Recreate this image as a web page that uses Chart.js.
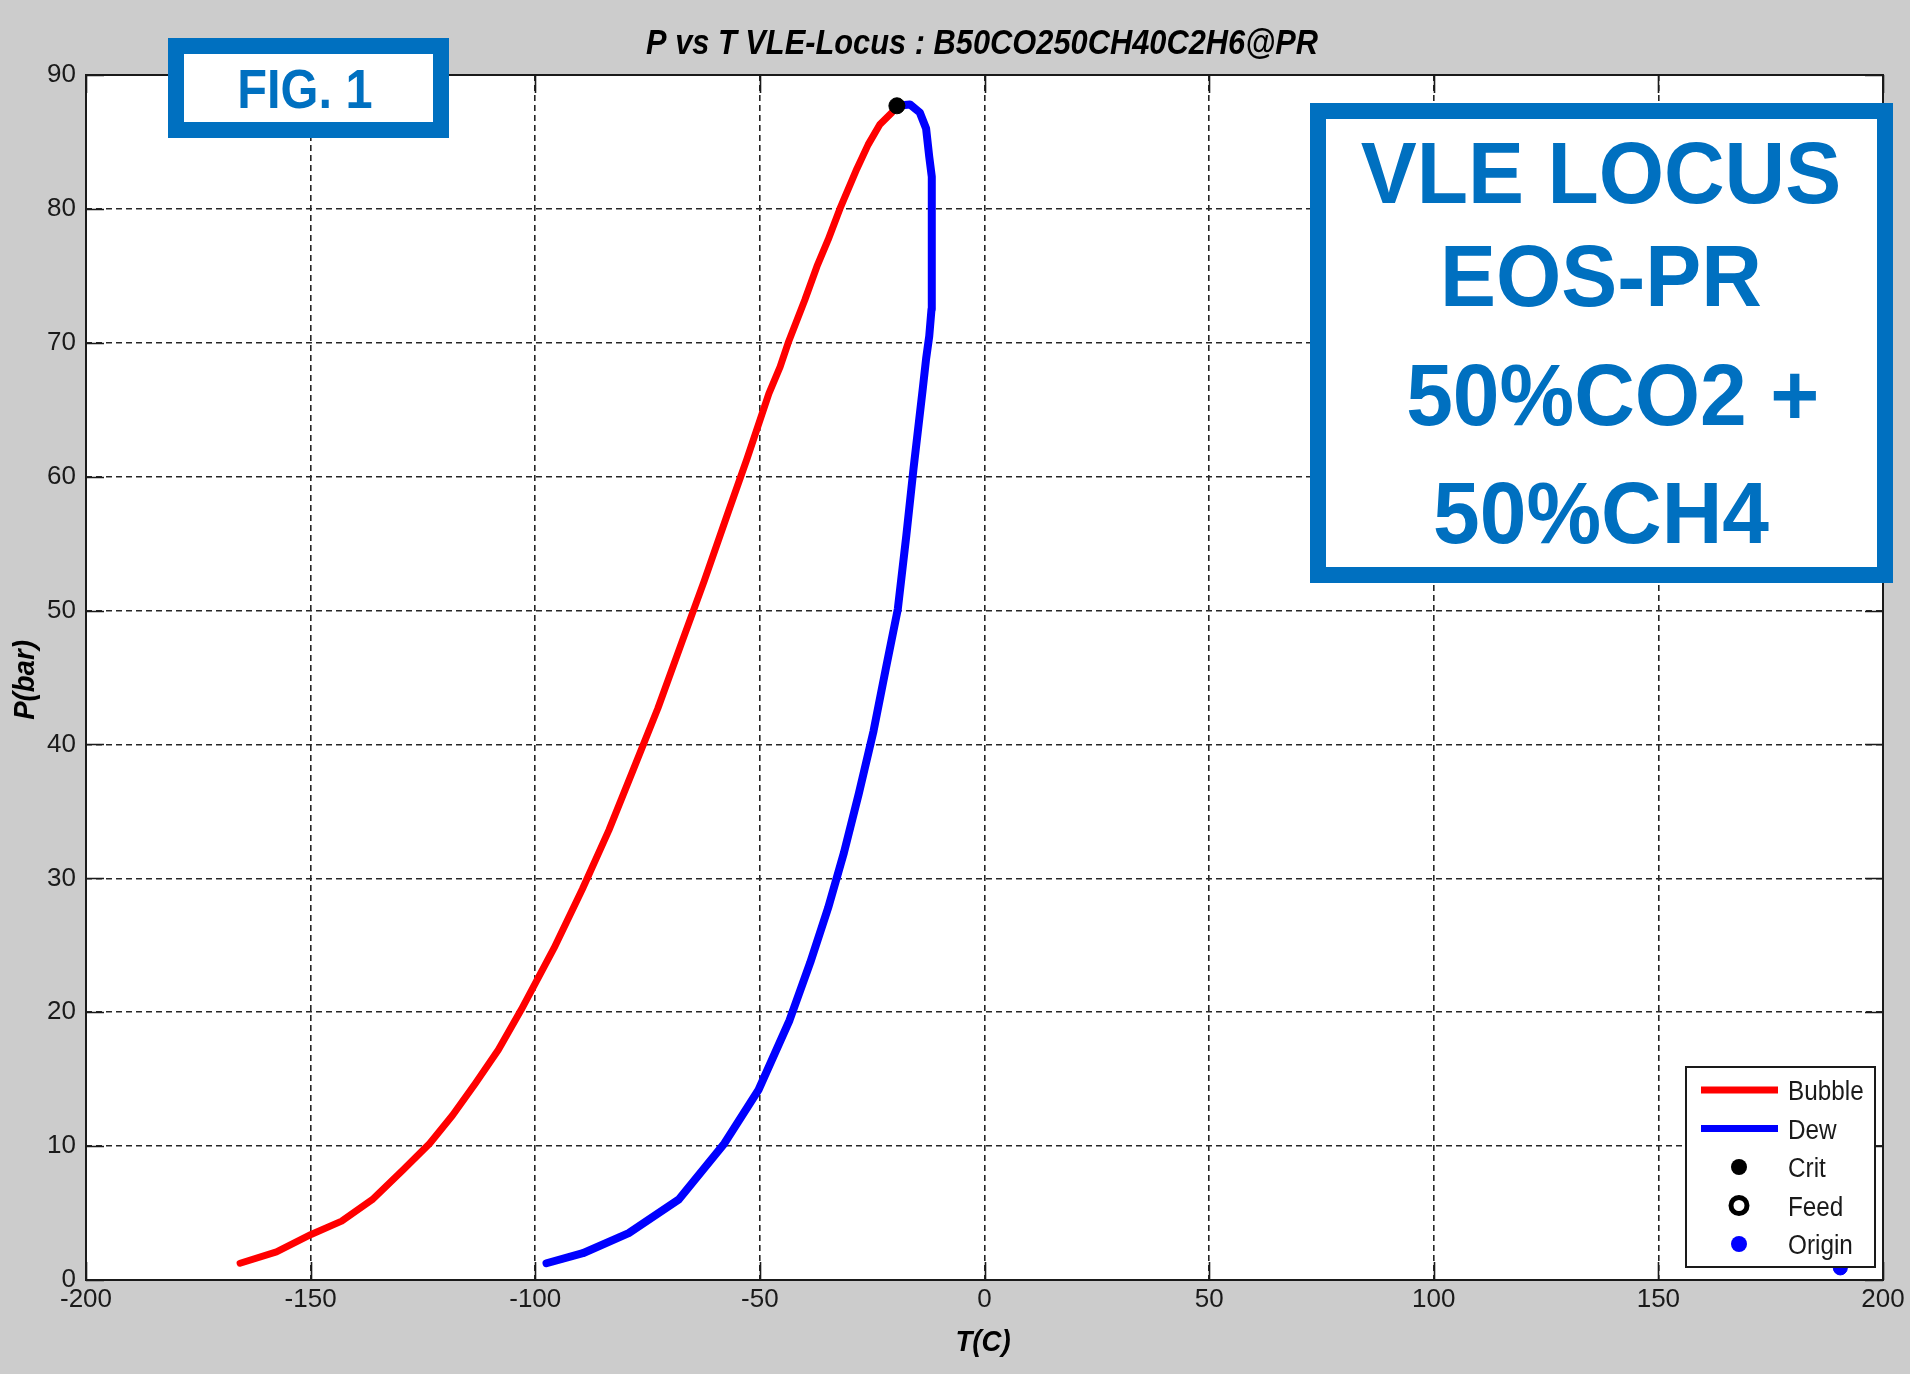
<!DOCTYPE html>
<html>
<head>
<meta charset="utf-8">
<script src="https://cdn.jsdelivr.net/npm/chart.js@4.4.1/dist/chart.umd.min.js"></script>
<style>
  html, body { margin: 0; padding: 0; background: #cccccc; }
  #wrap { width: 1910px; height: 1374px; }
</style>
</head>
<body>
<div id="wrap"><canvas id="myChart" width="1910" height="1374"></canvas></div>
<script>
// values
const bubbleT = [-165.7, -157.6, -149.9, -143.1, -136.3, -129.5, -123.5, -118.4, -113.3, -108.2, -103.1, -95.8, -89.5, -83.6, -78.2, -72.7, -67.3, -62.4, -57.0, -52.9, -48.0, -45.5, -43.7, -40.0, -37.3, -34.8, -32.2, -28.4, -25.9, -23.3, -20.6, -19.5];
const bubbleP = [1.25, 2.1, 3.4, 4.4, 6.0, 8.2, 10.2, 12.3, 14.7, 17.2, 20.2, 24.8, 29.2, 33.6, 38.1, 42.7, 47.7, 52.2, 57.4, 61.3, 66.2, 68.2, 70.0, 73.2, 75.7, 77.7, 80.0, 83.0, 84.8, 86.3, 87.2, 87.7];
const dewT = [-97.5, -89.4, -79.2, -68.1, -57.9, -50.3, -43.4, -38.8, -34.8, -31.3, -28.0, -24.7, -22.0, -19.3, -17.4, -15.8, -13.8, -13.0, -12.3, -11.8, -11.7, -11.7, -11.8, -12.3, -13.0, -14.4, -16.6, -19.5];
const dewP = [1.25, 2.0, 3.5, 6.0, 10.2, 14.2, 19.4, 23.7, 27.8, 31.9, 36.3, 41.0, 45.6, 50.1, 55.6, 60.6, 66.4, 68.8, 70.5, 72.5, 76.2, 80.0, 82.4, 83.9, 86.0, 87.2, 87.8, 87.7];
const critTP = [-19.5, 87.7];
const originTP = [190.5, 0.9];
const xTicks = [-200, -150, -100, -50, 0, 50, 100, 150, 200];
const yTicks = [0, 10, 20, 30, 40, 50, 60, 70, 80, 90];
const legendNames = ['Bubble', 'Dew', 'Crit', 'Feed', 'Origin'];
const titleText = 'P vs T VLE-Locus : B50CO250CH40C2H6@PR';
const xTitle = 'T(C)';
const yTitle = 'P(bar)';
const figText = 'FIG. 1';
const noteLines = ['VLE LOCUS', 'EOS-PR', ' 50%CO2 +', '50%CH4'];

const FONT = '"Liberation Sans", Arial, sans-serif';
const BOXBLUE = '#0070c0';

function pts(xs, ys) {
  return xs.map((x, i) => ({ x: x, y: ys[i] }));
}

function text(ctx, s, x, y, font, color, sx, align) {
  ctx.save();
  ctx.font = font;
  ctx.fillStyle = color;
  ctx.textAlign = align || 'center';
  ctx.textBaseline = 'alphabetic';
  ctx.translate(x, y);
  ctx.scale(sx, 1);
  ctx.fillText(s, 0, 0);
  ctx.restore();
}

function blueBox(ctx, x0, y0, x1, y1, bw) {
  ctx.save();
  ctx.fillStyle = BOXBLUE;
  ctx.fillRect(x0, y0, x1 - x0, y1 - y0);
  ctx.fillStyle = '#ffffff';
  ctx.fillRect(x0 + bw, y0 + bw, x1 - x0 - 2 * bw, y1 - y0 - 2 * bw);
  ctx.restore();
}

const matlabFrame = {
  id: 'matlabFrame',
  beforeDraw(chart) {
    const { ctx, chartArea: a } = chart;
    ctx.save();
    ctx.fillStyle = '#cccccc';
    ctx.fillRect(0, 0, chart.width, chart.height);
    ctx.fillStyle = '#ffffff';
    ctx.fillRect(a.left, a.top, a.right - a.left, a.bottom - a.top);
    ctx.restore();
  },
  afterDatasetsDraw(chart) {
    const { ctx, chartArea: a } = chart;
    const xs = chart.scales.x, ys = chart.scales.y;
    const tl = 18;

    // inward ticks on all four sides
    ctx.save();
    ctx.strokeStyle = '#1a1a1a';
    ctx.lineWidth = 1.6;
    ctx.beginPath();
    xTicks.forEach(v => {
      const px = Math.round(xs.getPixelForValue(v)) + 0.5;
      ctx.moveTo(px, a.bottom); ctx.lineTo(px, a.bottom - tl);
      ctx.moveTo(px, a.top); ctx.lineTo(px, a.top + tl);
    });
    yTicks.forEach(v => {
      const py = Math.round(ys.getPixelForValue(v)) + 0.5;
      ctx.moveTo(a.left, py); ctx.lineTo(a.left + tl, py);
      ctx.moveTo(a.right, py); ctx.lineTo(a.right - tl, py);
    });
    ctx.stroke();
    // box
    ctx.lineWidth = 2;
    ctx.strokeRect(a.left, a.top, a.right - a.left, a.bottom - a.top);
    ctx.restore();

    // legend
    const lx0 = 1686, ly0 = 1067, lx1 = 1875, ly1 = 1267;
    ctx.save();
    ctx.fillStyle = '#ffffff';
    ctx.fillRect(lx0, ly0, lx1 - lx0, ly1 - ly0);
    ctx.strokeStyle = '#1a1a1a';
    ctx.lineWidth = 2;
    ctx.strokeRect(lx0, ly0, lx1 - lx0, ly1 - ly0);
    const ds = chart.data.datasets;
    legendNames.forEach((name, i) => {
      const cy = 1090 + i * 38.5;
      const d = ds[i];
      if (d.showLine) {
        ctx.strokeStyle = d.borderColor;
        ctx.lineWidth = 7;
        ctx.beginPath();
        ctx.moveTo(1701, cy); ctx.lineTo(1778, cy);
        ctx.stroke();
      } else if (d.pointBackgroundColor === 'transparent') {
        ctx.strokeStyle = d.pointBorderColor;
        ctx.lineWidth = 5;
        ctx.beginPath();
        ctx.arc(1739, cy, 8, 0, Math.PI * 2);
        ctx.stroke();
      } else {
        ctx.fillStyle = d.pointBackgroundColor;
        ctx.beginPath();
        ctx.arc(1739, cy, 8, 0, Math.PI * 2);
        ctx.fill();
      }
      text(ctx, name, 1788, cy + 10, '27px ' + FONT, '#1a1a1a', 0.9, 'left');
    });
    ctx.restore();

    // titles
    text(ctx, titleText, 982, 54, 'italic bold 35px ' + FONT, '#000000', 0.88);
    text(ctx, xTitle, 983, 1351, 'italic bold 30px ' + FONT, '#000000', 0.92);
    ctx.save();
    ctx.translate(34, 680);
    ctx.rotate(-Math.PI / 2);
    text(ctx, yTitle, 0, 0, 'italic bold 30px ' + FONT, '#000000', 0.92);
    ctx.restore();

    // annotation boxes
    blueBox(ctx, 168, 38, 449, 138, 16);
    text(ctx, figText, 305, 108, 'bold 56px ' + FONT, BOXBLUE, 0.87);
    blueBox(ctx, 1310, 103, 1893, 583, 16);
    const bases = [203, 306, 425, 543];
    noteLines.forEach((s, i) => {
      text(ctx, s, 1601, bases[i], 'bold 87px ' + FONT, BOXBLUE, 0.965);
    });
  }
};

new Chart(document.getElementById('myChart'), {
  type: 'scatter',
  data: {
    datasets: [
      {
        label: legendNames[0],
        data: pts(bubbleT, bubbleP),
        showLine: true,
        borderColor: '#ff0000',
        backgroundColor: '#ff0000',
        borderWidth: 7,
        pointRadius: 0,
        borderJoinStyle: 'round',
        borderCapStyle: 'round',
        order: 3
      },
      {
        label: legendNames[1],
        data: pts(dewT, dewP),
        showLine: true,
        borderColor: '#0000ff',
        backgroundColor: '#0000ff',
        borderWidth: 8,
        pointRadius: 0,
        borderJoinStyle: 'round',
        borderCapStyle: 'round',
        order: 2
      },
      {
        label: legendNames[2],
        data: [{ x: critTP[0], y: critTP[1] }],
        pointRadius: 8,
        pointBackgroundColor: '#000000',
        pointBorderColor: '#000000',
        pointBorderWidth: 1,
        order: 0
      },
      {
        label: legendNames[3],
        data: [],
        pointRadius: 8,
        pointBackgroundColor: 'transparent',
        pointBorderColor: '#000000',
        pointBorderWidth: 5,
        order: 1
      },
      {
        label: legendNames[4],
        data: [{ x: originTP[0], y: originTP[1] }],
        pointRadius: 7,
        pointBackgroundColor: '#0000ff',
        pointBorderColor: '#0000ff',
        pointBorderWidth: 1,
        order: 1
      }
    ]
  },
  options: {
    responsive: false,
    animation: false,
    events: [],
    layout: { padding: { left: 0, top: 75, right: 27, bottom: 0 } },
    plugins: {
      legend: { display: false },
      title: { display: false },
      tooltip: { enabled: false }
    },
    scales: {
      x: {
        type: 'linear',
        min: xTicks[0],
        max: xTicks[xTicks.length - 1],
        afterFit: s => { s.height = 94; },
        ticks: {
          stepSize: xTicks[1] - xTicks[0],
          font: { family: FONT, size: 26 },
          color: '#1a1a1a',
          padding: 4,
          maxRotation: 0
        },
        grid: { color: '#262626', lineWidth: 1.6, drawTicks: false },
        border: { display: false, dash: [6, 4] }
      },
      y: {
        type: 'linear',
        min: yTicks[0],
        max: yTicks[yTicks.length - 1],
        afterFit: s => { s.width = 86; },
        ticks: {
          stepSize: yTicks[1] - yTicks[0],
          font: { family: FONT, size: 26 },
          color: '#1a1a1a',
          padding: 10
        },
        grid: { color: '#262626', lineWidth: 1.6, drawTicks: false },
        border: { display: false, dash: [6, 4] }
      }
    }
  },
  plugins: [matlabFrame]
});
</script>
</body>
</html>
